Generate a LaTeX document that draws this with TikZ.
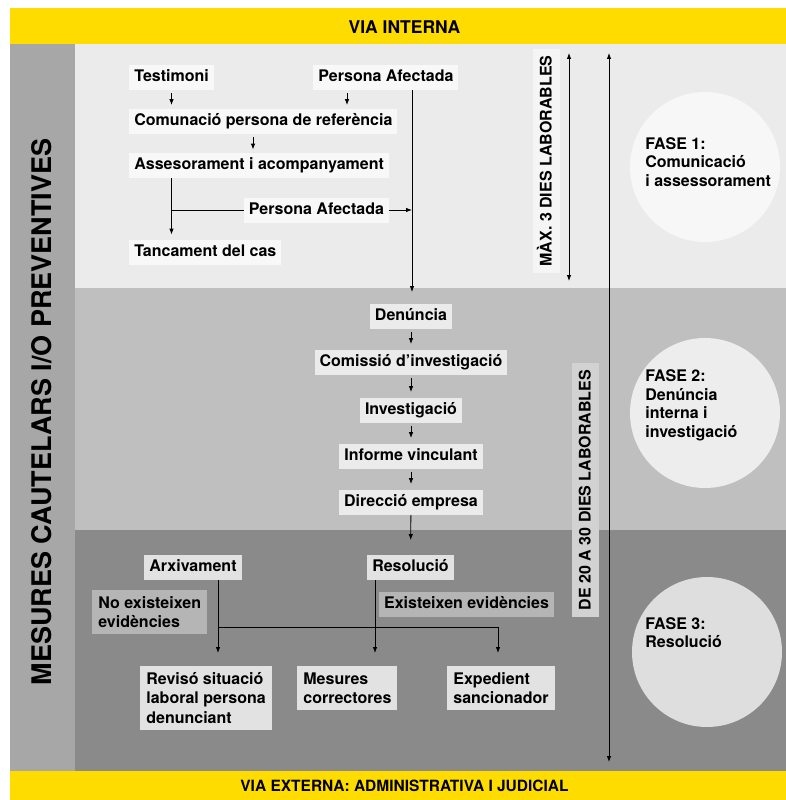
\documentclass[tikz,border=0pt]{standalone}
\usepackage{fontspec}
\setmainfont{TeX Gyre Heros}
\usetikzlibrary{arrows.meta}
\definecolor{viayellow}{HTML}{FFDC00}
\definecolor{sidegray}{HTML}{A7A7A7}
\definecolor{phaseone}{HTML}{EBEBEB}
\definecolor{phasetwo}{HTML}{BFBFBF}
\definecolor{phasethree}{HTML}{8A8A8A}
\definecolor{boxone}{HTML}{F8F8F8}
\definecolor{boxtwo}{HTML}{EBEBEB}
\definecolor{boxthree}{HTML}{E2E2E2}
\definecolor{evgray}{HTML}{B5B5B5}
\definecolor{circleone}{HTML}{F7F7F7}
\definecolor{circletwo}{HTML}{EDEDED}
\definecolor{circlethree}{HTML}{DEDEDE}
\definecolor{dayone}{HTML}{F5F5F5}
\definecolor{daytwo}{HTML}{D2D2D2}

\begin{document}
\begin{tikzpicture}[x=1pt,y=-1pt,>={Latex[length=6pt,width=4.5pt]},line width=0.8pt,
	font=\bfseries\fontsize{16}{19.5}\selectfont,
	box/.style={fill=#1,inner xsep=5pt,inner ysep=5pt,text height=11.5pt,text depth=3.5pt},
	mbox/.style={fill=#1,inner xsep=6pt,inner ysep=6pt,align=left},
	phase/.style={align=left,inner sep=0pt,font=\bfseries\fontsize{16}{18.5}\selectfont},
	daybox/.style={fill=#1,rotate=90,inner xsep=7pt,inner ysep=7pt,text height=12pt,text depth=1pt}]
	\useasboundingbox (0,0) rectangle (786,800);
	\fill[white] (0,0) rectangle (786,800);
	\fill[viayellow] (10,8) rectangle (786,44);
	\fill[viayellow] (10,771) rectangle (786,800);
	\fill[sidegray] (10,44) rectangle (75,771);
	\fill[phaseone] (75,44) rectangle (786,288);
	\fill[phasetwo] (75,288) rectangle (786,530);
	\fill[phasethree] (75,530) rectangle (786,771);
	\fill[circleone] (705,167) circle[radius=75pt];
	\fill[circletwo] (705,413) circle[radius=75pt];
	\fill[circlethree] (707,652) circle[radius=75pt];
	\node[font=\bfseries\fontsize{17.5}{20}\selectfont] (vint) at (404.5,27) {VIA INTERNA};
	\node[font=\bfseries\fontsize{15.5}{19}\selectfont] (vext) at (404.5,786) {VIA EXTERNA: ADMINISTRATIVA I JUDICIAL};
	\node[rotate=90,font=\bfseries\fontsize{27}{30}\selectfont] (cautel) at (42,412) {MESURES CAUTELARS I/O PREVENTIVES};
	\coordinate (lx) at (171.5,0);
	\coordinate (mx) at (253,0);
	\coordinate (px) at (347,0);
	\coordinate (sx) at (412,0);
	\coordinate (sxend) at (412,292);
	\node[box=boxone,anchor=west] (testimoni) at (129,77.5) {Testimoni};
	\node[box=boxone,anchor=west] (afect) at (313,77.5) {Persona Afectada};
	\node[box=boxone,anchor=west] (comunic) at (129,121) {Comunació persona de referència};
	\node[box=boxone,anchor=west] (assess) at (129,165.5) {Assesorament i acompanyament};
	\node[box=boxone] (afectb) at (316.5,210) {Persona Afectada};
	\node[box=boxone,anchor=west] (tanc) at (129,252.5) {Tancament del cas};
	\draw[->,shorten <=3pt,shorten >=3pt] (testimoni.south -| lx) -- (comunic.north -| lx);
	\draw[->,shorten <=3pt,shorten >=3pt] (afect.south -| px) -- (comunic.north -| px);
	\draw[->,shorten <=3pt,shorten >=3pt] (comunic.south -| mx) -- (assess.north -| mx);
	\draw[->,shorten >=5pt] (assess.south -| lx) -- (tanc.north -| lx);
	\draw (afectb.west -| lx) -- (afectb.west);
	\draw[->] (afectb.east) -- (afectb.east -| sx);
	\draw[->] (afect.south -| sx) -- (sxend);
	\node[box=boxtwo] (denuncia) at (411,316) {Denúncia};
	\node[box=boxtwo] (comissio) at (411,362) {Comissió d’investigació};
	\node[box=boxtwo] (investig) at (411,410) {Investigació};
	\node[box=boxtwo] (informe) at (411,456) {Informe vinculant};
	\node[box=boxtwo] (direccio) at (411,502) {Direcció empresa};
	\foreach \a/\b in {denuncia/comissio,comissio/investig,investig/informe,informe/direccio}
		\draw[->,shorten <=3pt,shorten >=5pt] (\a) -- (\b);
	\node[box=boxthree] (arxiv) at (193,567) {Arxivament};
	\node[box=boxthree] (resol) at (410.5,567) {Resolució};
	\draw[->,shorten >=14pt] (direccio) -- (resol);
	\node[mbox=evgray,anchor=north west] (noev) at (92,590) {No existeixen\\evidències};
	\node[box=evgray] (siev) at (466.5,604.5) {Existeixen evidències};
	\node[mbox=boxthree,anchor=north west] (revis) at (140,666) {Revisó situació\\laboral persona\\denunciant};
	\node[mbox=boxthree,anchor=north west] (mesur) at (297,666) {Mesures\\correctores};
	\node[mbox=boxthree,anchor=north west] (exped) at (447,666) {Expedient\\sancionador};
	\coordinate (ax) at (218,0);
	\coordinate (rx) at (375,0);
	\coordinate (ex) at (498,0);
	\coordinate (hy) at (0,627);
	\draw[->,shorten >=13pt] (arxiv.south -| ax) -- (revis.north -| ax);
	\draw[->,shorten >=13pt] (resol.south -| rx) -- (mesur.north -| rx);
	\draw[->,shorten >=13pt] (ax |- hy) -| (exped.north -| ex);
	\node[daybox=dayone] (maxdies) at (546,161) {MÀX. 3 DIES LABORABLES};
	\node[daybox=daytwo] (dedies) at (585,490) {DE 20 A 30 DIES LABORABLES};
	\coordinate (dtop) at (569,53);
	\coordinate (dbot) at (569,281);
	\coordinate (ltop) at (609,53);
	\coordinate (lbot) at (609,762);
	\draw[<->] (dtop) -- (dbot);
	\draw[<->] (ltop) -- (lbot);
	\node[phase,anchor=west] (fase1) at (645,162) {FASE 1:\\Comunicació\\i assessorament};
	\node[phase,anchor=west] (fase2) at (645,405.5) {FASE 2:\\Denúncia\\interna i\\investigació};
	\node[phase,anchor=west] (fase3) at (645,632.5) {FASE 3:\\Resolució};
\end{tikzpicture}
\end{document}
